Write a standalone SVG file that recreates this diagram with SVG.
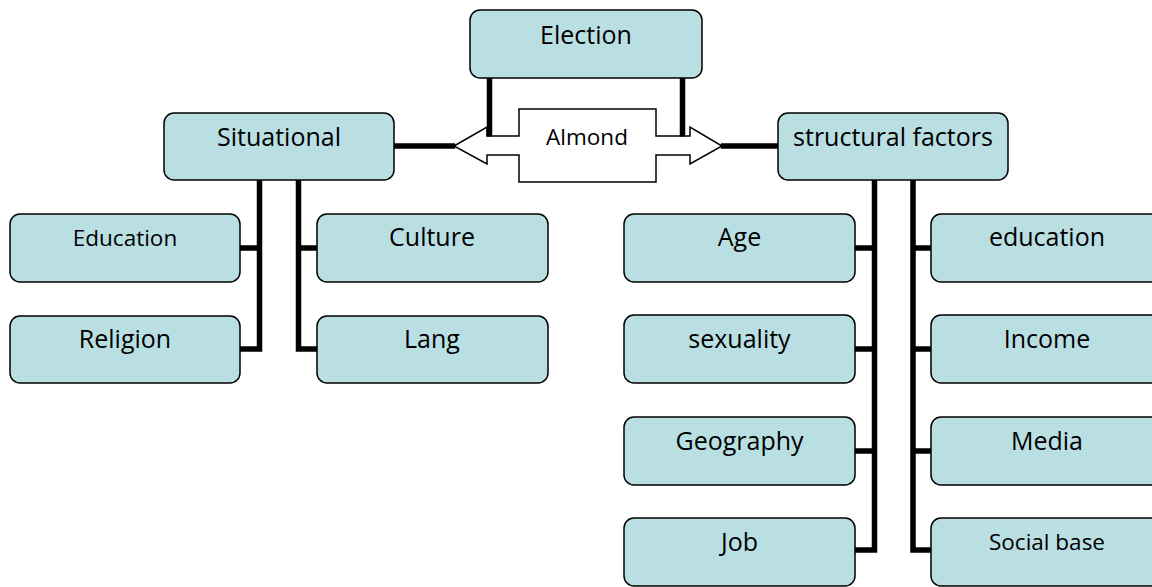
<svg xmlns="http://www.w3.org/2000/svg" width="1152" height="587" viewBox="0 0 1152 587">
<style>
.box{fill:#B9DFE2;stroke:#000;stroke-width:1.5}
.t{font-family:"Open Sans","Liberation Sans",sans-serif;font-size:25px;fill:#000;text-anchor:middle}
.s{font-size:22.5px}
.c{fill:none;stroke:#000;stroke-width:5.5;stroke-linecap:butt;stroke-linejoin:miter}
</style>
<rect width="1152" height="587" fill="#fff"/>
<g id="connectors">
<path class="c" d="M394,146 H455 M721,146 H778"/>
<path class="c" d="M259.5,180 V349 H240 M240,248 H259.5"/>
<path class="c" d="M298.5,180 V349 H317 M317,248 H298.5"/>
<path class="c" d="M874.5,180 V550 H855 M855,248 H874.5 M855,349 H874.5 M855,451 H874.5"/>
<path class="c" d="M913,180 V550 H931 M931,248 H913 M931,349 H913 M931,451 H913"/>
</g>
<g id="almond">
<polygon points="454,146 487,127 487,136 519,136 519,109 656,109 656,136 690,136 690,127 722,146 690,164 690,155 656,155 656,182 519,182 519,155 487,155 487,164" fill="#fff" stroke="#000" stroke-width="1.5"/>
<text class="t s" x="587" y="145">Almond</text>
</g>
<g id="election-connectors">
<path class="c" d="M489.5,78 V136.5 M682.5,78 V136.5"/>
</g>
<g id="election"><rect class="box" x="470" y="10" width="232" height="68" rx="10"/><text class="t" x="586" y="44">Election</text></g>
<g id="situational"><rect class="box" x="164" y="113" width="230" height="67" rx="10"/><text class="t" x="279" y="146">Situational</text></g>
<g id="structural"><rect class="box" x="778" y="113" width="230" height="67" rx="10"/><text class="t" x="893" y="146">structural factors</text></g>
<g id="education-left"><rect class="box" x="10" y="214" width="230" height="68" rx="10"/><text class="t s" x="125" y="246">Education</text></g>
<g id="religion"><rect class="box" x="10" y="316" width="230" height="67" rx="10"/><text class="t" x="125" y="348">Religion</text></g>
<g id="culture"><rect class="box" x="317" y="214" width="231" height="68" rx="10"/><text class="t" x="432" y="246">Culture</text></g>
<g id="lang"><rect class="box" x="317" y="316" width="231" height="67" rx="10"/><text class="t" x="432" y="348">Lang</text></g>
<g id="age"><rect class="box" x="624" y="214" width="231" height="68" rx="10"/><text class="t" x="739.5" y="246">Age</text></g>
<g id="sexuality"><rect class="box" x="624" y="315" width="231" height="68" rx="10"/><text class="t" x="739.5" y="348">sexuality</text></g>
<g id="geography"><rect class="box" x="624" y="417" width="231" height="68" rx="10"/><text class="t" x="739.5" y="450">Geography</text></g>
<g id="job"><rect class="box" x="624" y="518" width="231" height="68" rx="10"/><text class="t" x="739.5" y="551">Job</text></g>
<g id="education-right"><rect class="box" x="931" y="214" width="231" height="68" rx="10"/><text class="t" x="1047" y="246">education</text></g>
<g id="income"><rect class="box" x="931" y="315" width="231" height="68" rx="10"/><text class="t" x="1047" y="348">Income</text></g>
<g id="media"><rect class="box" x="931" y="417" width="231" height="68" rx="10"/><text class="t" x="1047" y="450">Media</text></g>
<g id="social-base"><rect class="box" x="931" y="518" width="231" height="68" rx="10"/><text class="t s" x="1047" y="550">Social base</text></g>
</svg>
